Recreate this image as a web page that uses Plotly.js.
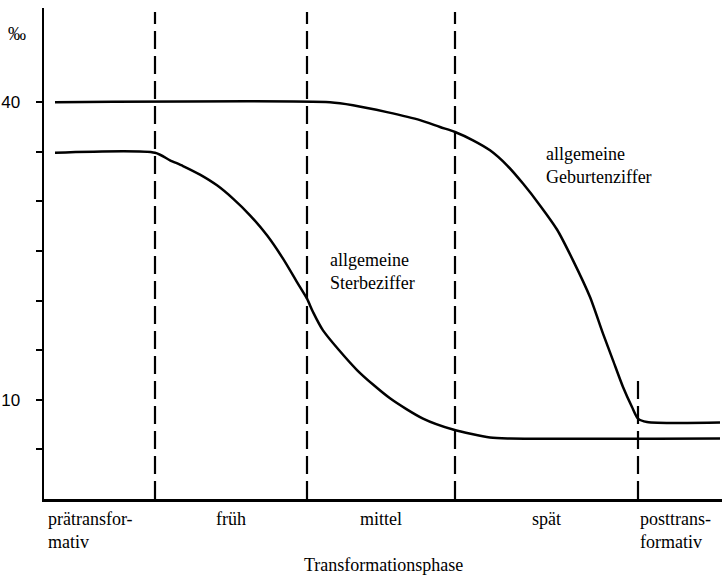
<!DOCTYPE html>
<html>
<head>
<meta charset="utf-8">
<script src="https://cdn.plot.ly/plotly-3.0.1.min.js"></script>
<style>html,body{margin:0;padding:0;background:#fff;}</style>
</head>
<body>
<div id="chart" style="width:726px;height:579px;"></div>
<script>
// Death rate (allgemeine Sterbeziffer), per mille
const deathX = [11, 111, 126, 139, 156, 173, 189, 206, 223, 239, 253, 263, 269, 279, 313, 346, 379, 409, 446, 466, 676];
const deathY = [34.9, 34.9, 34.15, 33.57, 32.7, 31.62, 30.28, 28.6, 26.58, 24.23, 21.87, 20.2, 18.85, 17.0, 13.0, 10.15, 8.1, 7.0, 6.2, 6.1, 6.1];
// Birth rate (allgemeine Geburtenziffer), per mille
const birthX = [11, 286, 309, 343, 376, 396, 411, 429, 446, 463, 479, 496, 513, 529, 546, 559, 569, 579, 588, 594, 603, 676];
const birthY = [40, 40, 39.7, 39.0, 38.2, 37.5, 37.0, 36.16, 35.15, 33.64, 31.8, 29.6, 27.17, 24.06, 20.36, 16.67, 13.98, 11.29, 9.27, 8.1, 7.76, 7.7];
// Phase boundaries and their dashed-line top values
const boundaries = [111, 263, 411, 594];
const boundaryTops = [49.1, 49.1, 49.1, 12];
// Phase labels
const phaseLabels = ["prätransfor-<br>mativ", "früh", "mittel", "spät", "posttrans-<br>formativ"];
const yTickVals = [5, 10, 15, 20, 25, 30, 35, 40];
const yTickText = ["", "10", "", "", "", "", "", "40"];

const serif = "Liberation Serif, DejaVu Serif, serif";
const fs = 18;

const shapes = boundaries.map((b, i) => ({
  type: "line", xref: "x", yref: "y",
  x0: b, x1: b, y0: 0, y1: boundaryTops[i],
  line: {color: "#000", width: 2.2, dash: "18px,7px"}
}));

const labelX = [2, (boundaries[0]+boundaries[1])/2, (boundaries[1]+boundaries[2])/2, (boundaries[2]+boundaries[3])/2, boundaries[3]];
const labelAnchor = ["left", "center", "center", "center", "left"];
const annotations = phaseLabels.map((t, i) => ({
  x: labelX[i], y: 0, xref: "x", yref: "y",
  text: t, showarrow: false, xanchor: labelAnchor[i], yanchor: "top",
  align: "left", yshift: -8,
  font: {family: serif, size: fs, color: "#000"}
}));
annotations.push({
  x: 0.5, y: 0, xref: "paper", yref: "paper", text: "Transformationsphase",
  showarrow: false, xanchor: "center", yanchor: "top", yshift: -54,
  font: {family: serif, size: fs, color: "#000"}
});
annotations.push({
  x: 284, y: 22.9, xref: "x", yref: "y", text: "allgemeine<br>Sterbeziffer",
  showarrow: false, xanchor: "left", yanchor: "middle", align: "left",
  font: {family: serif, size: fs, color: "#000"}
});
annotations.push({
  x: 500, y: 33.6, xref: "x", yref: "y", text: "allgemeine<br>Geburtenziffer",
  showarrow: false, xanchor: "left", yanchor: "middle", align: "left",
  font: {family: serif, size: fs, color: "#000"}
});
annotations.push({
  x: 0, y: 46.9, xref: "paper", yref: "y", text: "‰",
  showarrow: false, xanchor: "right", yanchor: "middle", xshift: -16,
  font: {family: serif, size: 18, color: "#000"}
});

const traces = [
  {x: birthX, y: birthY, mode: "lines", type: "scatter", name: "allgemeine Geburtenziffer",
   line: {color: "#000", width: 2.5, shape: "spline", smoothing: 0.7}},
  {x: deathX, y: deathY, mode: "lines", type: "scatter", name: "allgemeine Sterbeziffer",
   line: {color: "#000", width: 2.5, shape: "spline", smoothing: 0.7}}
];

const layout = {
  width: 726, height: 579,
  margin: {l: 44, r: 4, t: 8, b: 80},
  paper_bgcolor: "#fff", plot_bgcolor: "#fff",
  showlegend: false,
  xaxis: {range: [0, 678], showgrid: false, zeroline: false, showticklabels: false,
          ticks: "", showline: true, linecolor: "#000", linewidth: 2.5, fixedrange: true},
  yaxis: {range: [0, 49.5], showgrid: false, zeroline: false,
          tickvals: yTickVals, ticktext: yTickText, ticks: "outside", ticklen: 6,
          tickwidth: 2, tickcolor: "#000", showline: true, linecolor: "#000", linewidth: 2.5,
          ticklabelstandoff: 12,
          tickfont: {family: "Liberation Sans, Arial, sans-serif", size: 17, color: "#000"},
          fixedrange: true},
  shapes: shapes,
  annotations: annotations
};

Plotly.newPlot("chart", traces, layout, {displayModeBar: false, staticPlot: true});
</script>
</body>
</html>
